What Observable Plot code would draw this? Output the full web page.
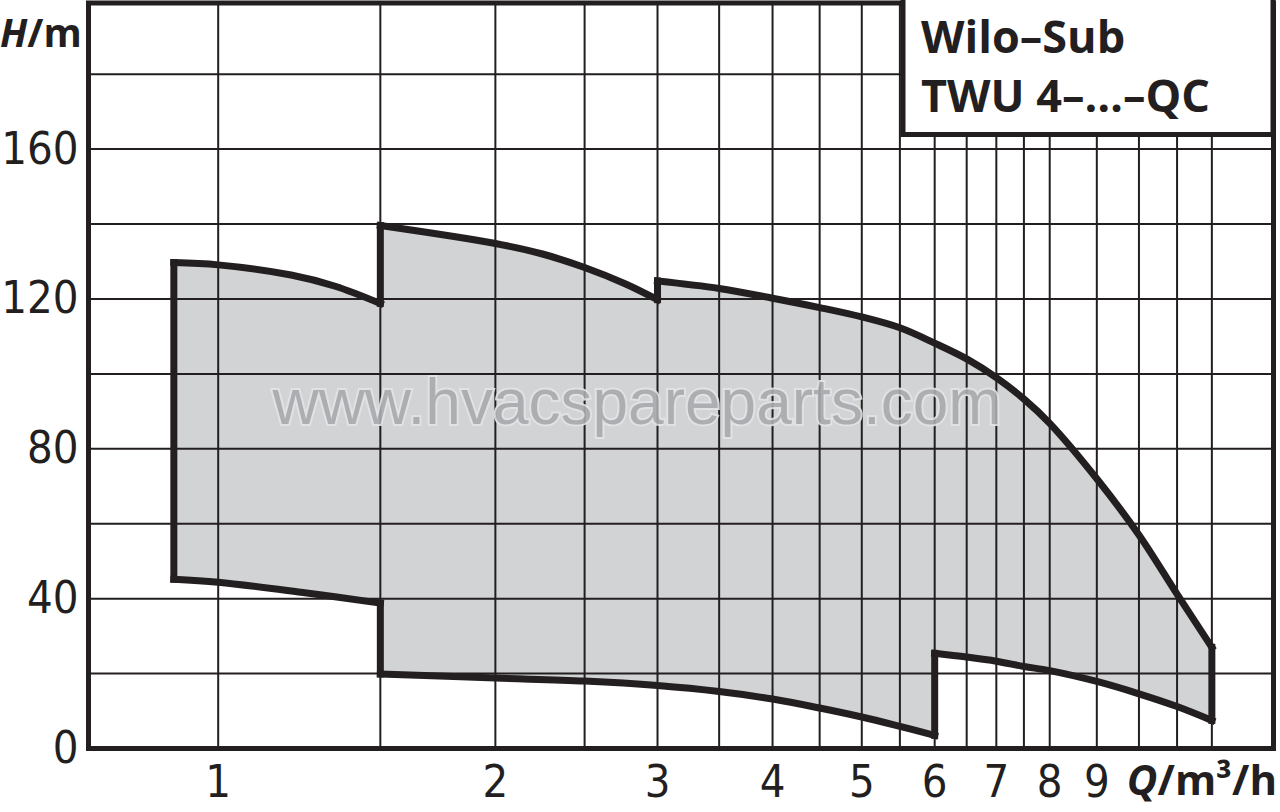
<!DOCTYPE html>
<html><head><meta charset="utf-8">
<script src="https://cdn.jsdelivr.net/npm/d3@7"></script>
<script src="https://cdn.jsdelivr.net/npm/@observablehq/plot@0.6"></script>
<style>
html,body{margin:0;padding:0;background:#fff;}
#chart{width:1280px;height:812px;overflow:hidden;}
</style></head><body><div id="chart"></div>
<script>
const INK = "#231f20";
const FILL = "#d1d3d4";

// Tick labels and grid
const xTickValues = [1, 2, 3, 4, 5, 6, 7, 8, 9];
const yTickValues = [0, 40, 80, 120, 160];
const xGridValues = [1, 1.5, 2, 2.5, 3, 3.5, 4, 4.5, 5, 5.5, 6, 6.5, 7, 7.5, 8, 9, 10, 11, 12];
const yGridValues = [20, 40, 60, 80, 100, 120, 140, 160, 180];

// Texts
const titleLines = ["Wilo–Sub", "TWU 4–…–QC"];
const yLabel = ["H", "/m"];
const xLabel = ["Q", "/m³/h"];
const watermark = "www.hvacspareparts.com";

// Envelope of the pump range (Q in m³/h, H in m), traced clockwise
const upper1Q = [0.895, 1, 1.2, 1.34, 1.5];
const upper1H = [129.7, 129.1, 126.4, 123.4, 118.8];

const upper2Q = [1.5, 2, 2.25, 2.5, 2.77, 3];
const upper2H = [139.6, 134.8, 132.0, 128.4, 124.0, 119.8];

const upper3Q = [3, 3.5, 4, 4.5, 5, 5.5, 6, 6.5, 7, 7.5, 8, 9, 10, 11, 12];
const upper3H = [124.8, 122.8, 120.2, 117.7, 115.2, 112.3, 108.2, 104.0, 99.0, 93.3, 86.8, 72.0, 57.0, 41.2, 27.0];

const lower3Q = [12, 11, 10, 9, 8, 7.5, 7, 6.5, 6];
const lower3H = [7.5, 11.2, 14.6, 17.9, 20.8, 21.9, 23.3, 24.4, 25.4];

const lower2Q = [6, 5.5, 5, 4.5, 4, 3.5, 3, 2.5, 2, 1.5];
const lower2H = [3.5, 5.9, 8.4, 10.8, 13.2, 15.2, 16.8, 18.0, 18.8, 19.9];

const lower1Q = [1.5, 1.23, 1, 0.895];
const lower1H = [38.8, 41.7, 44.4, 45.2];

const segments = [
  {name: "upper1", Q: upper1Q, H: upper1H},
  {name: "upper2", Q: upper2Q, H: upper2H},
  {name: "upper3", Q: upper3Q, H: upper3H},
  {name: "lower3", Q: lower3Q, H: lower3H},
  {name: "lower2", Q: lower2Q, H: lower2H},
  {name: "lower1", Q: lower1Q, H: lower1H}
];
const outline = segments.flatMap(s => s.Q.map((q, i) => ({seg: s.name, Q: q, H: s.H[i]})));
const joins = segments.flatMap((s, i) => {
  const n = segments[(i + 1) % segments.length];
  return [
    {seg: "j" + i, Q: s.Q[s.Q.length - 1], H: s.H[s.H.length - 1]},
    {seg: "j" + i, Q: n.Q[0], H: n.H[0]}
  ];
});

const plot = Plot.plot({
  width: 1280,
  height: 812,
  marginLeft: 88,
  marginRight: 7,
  marginTop: 2.5,
  marginBottom: 64,
  x: {type: "log", domain: [0.723, 14]},
  y: {domain: [0, 199]},
  style: {fontFamily: "'DejaVu Sans Condensed', 'DejaVu Sans', sans-serif", fontStretch: "condensed", color: INK, background: "white", overflow: "visible"},
  marks: [
    Plot.line(outline, {x: "Q", y: "H", fill: FILL, stroke: "none", curve: "linear"}),
    Plot.ruleX(xGridValues, {stroke: INK, strokeWidth: 2}),
    Plot.ruleY(yGridValues, {stroke: INK, strokeWidth: 2}),
    Plot.line(outline, {x: "Q", y: "H", z: "seg", stroke: INK, strokeWidth: 7, curve: "catmull-rom", strokeLinecap: "square"}),
    Plot.line(joins, {x: "Q", y: "H", z: "seg", stroke: INK, strokeWidth: 7, strokeLinecap: "square"}),
    Plot.frame({stroke: INK, strokeWidth: 5}),
    Plot.axisX(xTickValues, {tickSize: 0, tickPadding: 17, fontSize: 45, tickFormat: d => String(d), label: null}),
    Plot.axisY(yTickValues, {tickSize: 0, tickPadding: 10, fontSize: 45, tickFormat: d => String(d), label: null})
  ]
});

document.getElementById("chart").appendChild(plot);
const svg = d3.select(plot);

function label(sel) {
  return sel
    .attr("font-family", "'Open Sans', sans-serif")
    .attr("font-stretch", "normal")
    .attr("font-weight", 700)
    .attr("fill", INK);
}

// watermark
svg.append("text")
  .attr("x", 637).attr("y", 424)
  .attr("text-anchor", "middle")
  .attr("font-family", "'Liberation Sans', Arial, sans-serif")
  .attr("font-stretch", "normal")
  .attr("font-size", 64)
  .attr("fill", "#a9abae")
  .attr("stroke", "#e3e4e5")
  .attr("stroke-width", 4)
  .attr("paint-order", "stroke")
  .attr("opacity", 0.9)
  .text(watermark);

// title box
svg.append("rect")
  .attr("x", 903).attr("y", -3).attr("width", 370).attr("height", 137.5)
  .attr("fill", "white").attr("stroke", INK).attr("stroke-width", 5);
titleLines.forEach((t, i) => {
  label(svg.append("text"))
    .attr("x", 921).attr("y", 53 + i * 59)
    .attr("text-anchor", "start")
    .attr("font-size", 45)
    .text(t);
});

// axis labels
const yl = label(svg.append("text"))
  .attr("x", 0).attr("y", 47)
  .attr("text-anchor", "start")
  .attr("font-size", 39);
yl.append("tspan").attr("font-style", "italic").text(yLabel[0]);
yl.append("tspan").text(yLabel[1]);

const xl = label(svg.append("text"))
  .attr("x", 1277).attr("y", 795)
  .attr("text-anchor", "end")
  .attr("font-size", 42);
xl.append("tspan").attr("font-style", "italic").text(xLabel[0]);
xl.append("tspan").text(xLabel[1]);
</script>
</body></html>
